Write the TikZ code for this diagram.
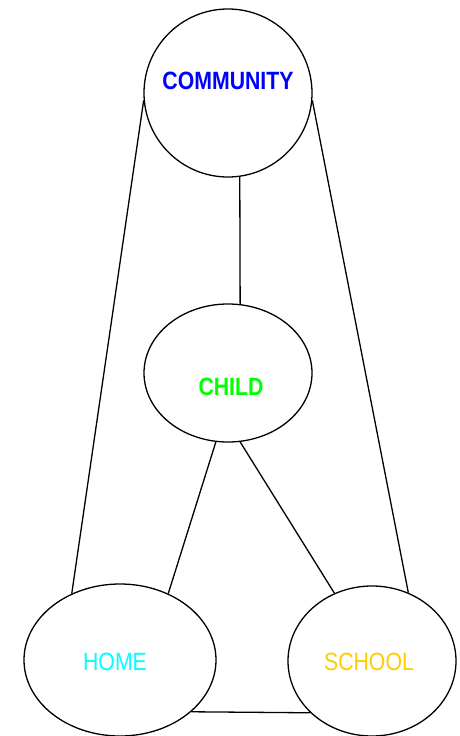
\documentclass[tikz,border=0pt]{standalone}
\usepackage{fontspec}
\newfontfamily\narrowsans{Liberation Sans}[FakeStretch=0.85]
\usetikzlibrary{shapes.geometric}
\definecolor{commblue}{RGB}{0,0,255}
\definecolor{childgreen}{RGB}{0,255,0}
\definecolor{homecyan}{RGB}{0,255,255}
\definecolor{schoolgold}{RGB}{255,204,0}
\tikzset{
  sphere/.style={draw, ellipse, line width=1.3pt, inner sep=0pt},
  link/.style={line width=1.3pt},
  tag/.style={font=\narrowsans\fontsize{25}{25}\selectfont, inner sep=0pt}
}
\begin{document}
\begin{tikzpicture}[x=1pt, y=-1pt]
  \useasboundingbox (0,0) rectangle (460,736);
  \node[sphere, minimum width=168pt, minimum height=168pt] (community) at (228,93) {};
  \node[sphere, minimum width=168pt, minimum height=138pt] (child) at (228,373) {};
  \node[sphere, minimum width=192pt, minimum height=152pt] (home) at (120,660) {};
  \node[sphere, minimum width=168pt, minimum height=150pt] (school) at (372,661) {};
  % labels
  \node[tag, text=commblue, font=\narrowsans\bfseries\fontsize{25}{25}\selectfont] (communitytext) at (228,81) {COMMUNITY};
  \node[tag, text=childgreen, font=\narrowsans\bfseries\fontsize{25}{25}\selectfont] (childtext) at (231,387) {CHILD};
  \node[tag, text=homecyan] (hometext) at (115,662) {HOME};
  \node[tag, text=schoolgold] (schooltext) at (369,662) {SCHOOL};
  % connections
  \draw[link] (community.185) -- (home.126);
  \draw[link] (community.355) -- (school.62);
  \draw[link] (community.278) -- (child.80);
  \draw[link] (child.260) -- (home.54);
  \draw[link] (child.280) -- (school.119);
  \draw[link] (home.324) -- (school.220);
\end{tikzpicture}
\end{document}
